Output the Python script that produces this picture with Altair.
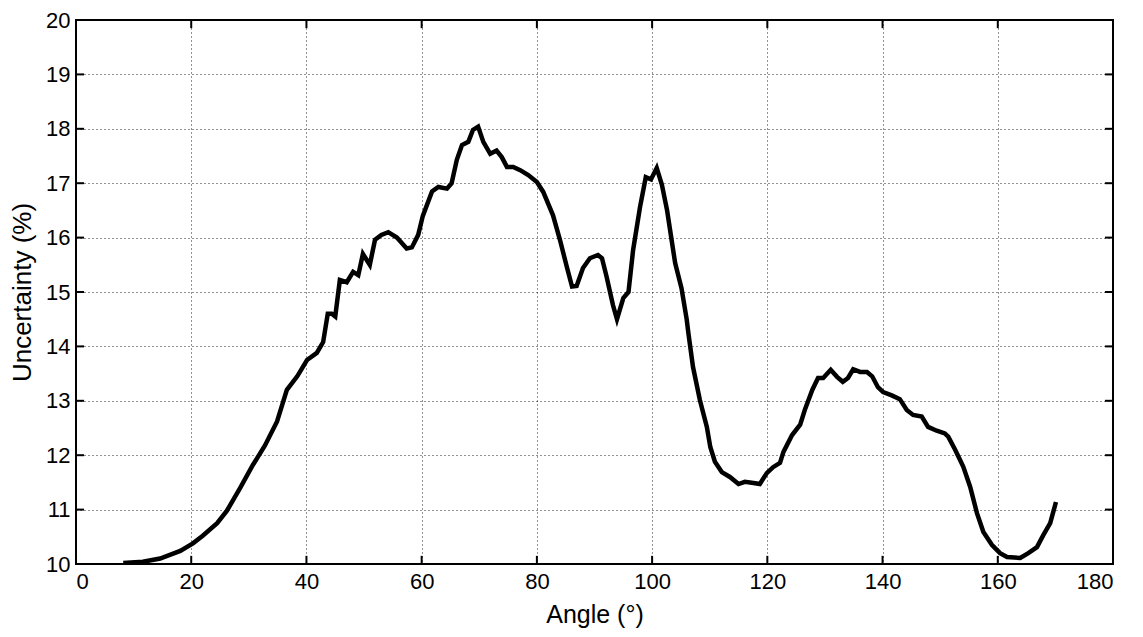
import altair as alt
import pandas as pd

angle = [8.2, 11.6, 14.6, 18.1, 20.3, 22.0, 24.5, 26.2, 28.5, 30.7, 32.8, 34.9, 36.6, 38.4, 40.1,
         41.8, 42.9, 43.7, 44.4, 45.0, 45.8, 47.0, 48.1, 49.0, 49.8, 51.0, 51.9, 53.0, 54.2, 55.7,
         57.4, 58.3, 59.4, 60.2, 61.8, 62.9, 64.4, 65.2, 66.1, 67.0, 68.1, 68.9, 69.8, 70.7, 71.9,
         73.0, 73.9, 74.8, 75.9, 77.1, 78.5, 80.0, 81.1, 82.8, 84.0, 85.2, 86.1, 86.9, 88.0, 89.2,
         90.6, 91.3, 92.1, 93.2, 93.9, 95.0, 95.9, 96.7, 97.9, 98.9, 99.8, 100.8, 101.7, 102.6, 104.0,
         105.1, 106.0, 106.3, 107.1, 108.3, 109.5, 110.1, 110.9, 112.1, 113.5, 115.0, 116.1, 117.6, 118.7,
         119.9, 121.0, 122.2, 122.8, 124.3, 125.7, 126.5, 127.8, 128.8, 129.7, 131.0, 132.1, 133.1, 134.0,
         134.9, 136.1, 137.3, 138.2, 139.2, 140.1, 141.6, 143.0, 144.2, 145.3, 146.8, 147.9, 149.4, 150.8,
         151.4, 152.6, 154.0, 155.2, 156.4, 157.5, 159.0, 160.4, 161.6, 163.9, 165.3, 166.8, 167.9, 169.1,
         170.1]
uncertainty = [10.02, 10.04, 10.10, 10.24, 10.38, 10.52, 10.75, 10.98, 11.40, 11.82, 12.18, 12.62, 13.20, 13.45, 13.75,
               13.88, 14.08, 14.60, 14.60, 14.55, 15.22, 15.18, 15.37, 15.31, 15.70, 15.50, 15.96, 16.05, 16.10, 16.00,
               15.80, 15.82, 16.05, 16.40, 16.85, 16.93, 16.90, 17.00, 17.43, 17.70, 17.76, 17.98, 18.04, 17.76, 17.54,
               17.60, 17.48, 17.30, 17.30, 17.24, 17.15, 17.02, 16.84, 16.41, 15.96, 15.46, 15.10, 15.11, 15.44, 15.62,
               15.68, 15.62, 15.28, 14.76, 14.50, 14.89, 15.00, 15.77, 16.56, 17.11, 17.07, 17.28, 16.97, 16.50, 15.53,
               15.07, 14.50, 14.24, 13.62, 13.01, 12.52, 12.15, 11.88, 11.69, 11.60, 11.47, 11.51, 11.49, 11.47,
               11.67, 11.78, 11.86, 12.06, 12.37, 12.56, 12.83, 13.20, 13.42, 13.42, 13.57, 13.44, 13.35, 13.42,
               13.58, 13.53, 13.53, 13.45, 13.25, 13.16, 13.10, 13.03, 12.83, 12.74, 12.71, 12.52, 12.45, 12.40,
               12.34, 12.10, 11.79, 11.42, 10.93, 10.59, 10.35, 10.20, 10.13, 10.11, 10.20, 10.31, 10.53, 10.75,
               11.14]

x_ticks = [0, 20, 40, 60, 80, 100, 120, 140, 160, 180]
y_ticks = [10, 11, 12, 13, 14, 15, 16, 17, 18, 19, 20]

W, H = 1037, 544

df = pd.DataFrame({"angle": angle, "u": uncertainty})
xt = pd.DataFrame({"xt": x_ticks, "y0": [10] * len(x_ticks), "y1": [10.15] * len(x_ticks),
                   "y2": [20] * len(x_ticks), "y3": [19.85] * len(x_ticks)})
yt = pd.DataFrame({"yt": y_ticks, "x0": [0] * len(y_ticks), "x1": [1.4] * len(y_ticks),
                   "x2": [180] * len(y_ticks), "x3": [178.6] * len(y_ticks)})

xscale = alt.Scale(domain=[0, 180], nice=False, zero=False)
yscale = alt.Scale(domain=[10, 20], nice=False, zero=False)

common = dict(grid=True, ticks=False, domain=False, labelFontSize=22,
              titleFontWeight="normal", labelColor="black", titleColor="black",
              gridColor="black", gridOpacity=0.85, gridDash=[1, 3], gridWidth=1)

line = alt.Chart(df).mark_line(color="black", strokeWidth=4.5, clip=True).encode(
    x=alt.X("angle:Q", scale=xscale,
            axis=alt.Axis(title="Angle (°)", values=x_ticks, labelPadding=7, titlePadding=10,
                          titleFontSize=25, **common)),
    y=alt.Y("u:Q", scale=yscale,
            axis=alt.Axis(title="Uncertainty (%)", values=y_ticks, labelPadding=6, titlePadding=10,
                          titleFontSize=26, **common)),
)

rule = dict(color="black", strokeWidth=2)
bottom_ticks = alt.Chart(xt).mark_rule(**rule).encode(
    x=alt.X("xt:Q", scale=xscale), y=alt.Y("y0:Q", scale=yscale), y2="y1:Q")
top_ticks = alt.Chart(xt).mark_rule(**rule).encode(
    x=alt.X("xt:Q", scale=xscale), y=alt.Y("y2:Q", scale=yscale), y2="y3:Q")
left_ticks = alt.Chart(yt).mark_rule(**rule).encode(
    y=alt.Y("yt:Q", scale=yscale), x=alt.X("x0:Q", scale=xscale), x2="x1:Q")
right_ticks = alt.Chart(yt).mark_rule(**rule).encode(
    y=alt.Y("yt:Q", scale=yscale), x=alt.X("x2:Q", scale=xscale), x2="x3:Q")

chart = alt.layer(line, bottom_ticks, top_ticks, left_ticks, right_ticks).properties(
    width=W, height=H,
    autosize=alt.AutoSizeParams(type="none"),
    padding={"left": 68, "top": 12, "right": 22, "bottom": 64},
).configure(
    font="Liberation Sans",
).configure_view(
    stroke="black", strokeWidth=2
)

chart.save("out.html", embed_options={"renderer": "svg", "actions": False})
